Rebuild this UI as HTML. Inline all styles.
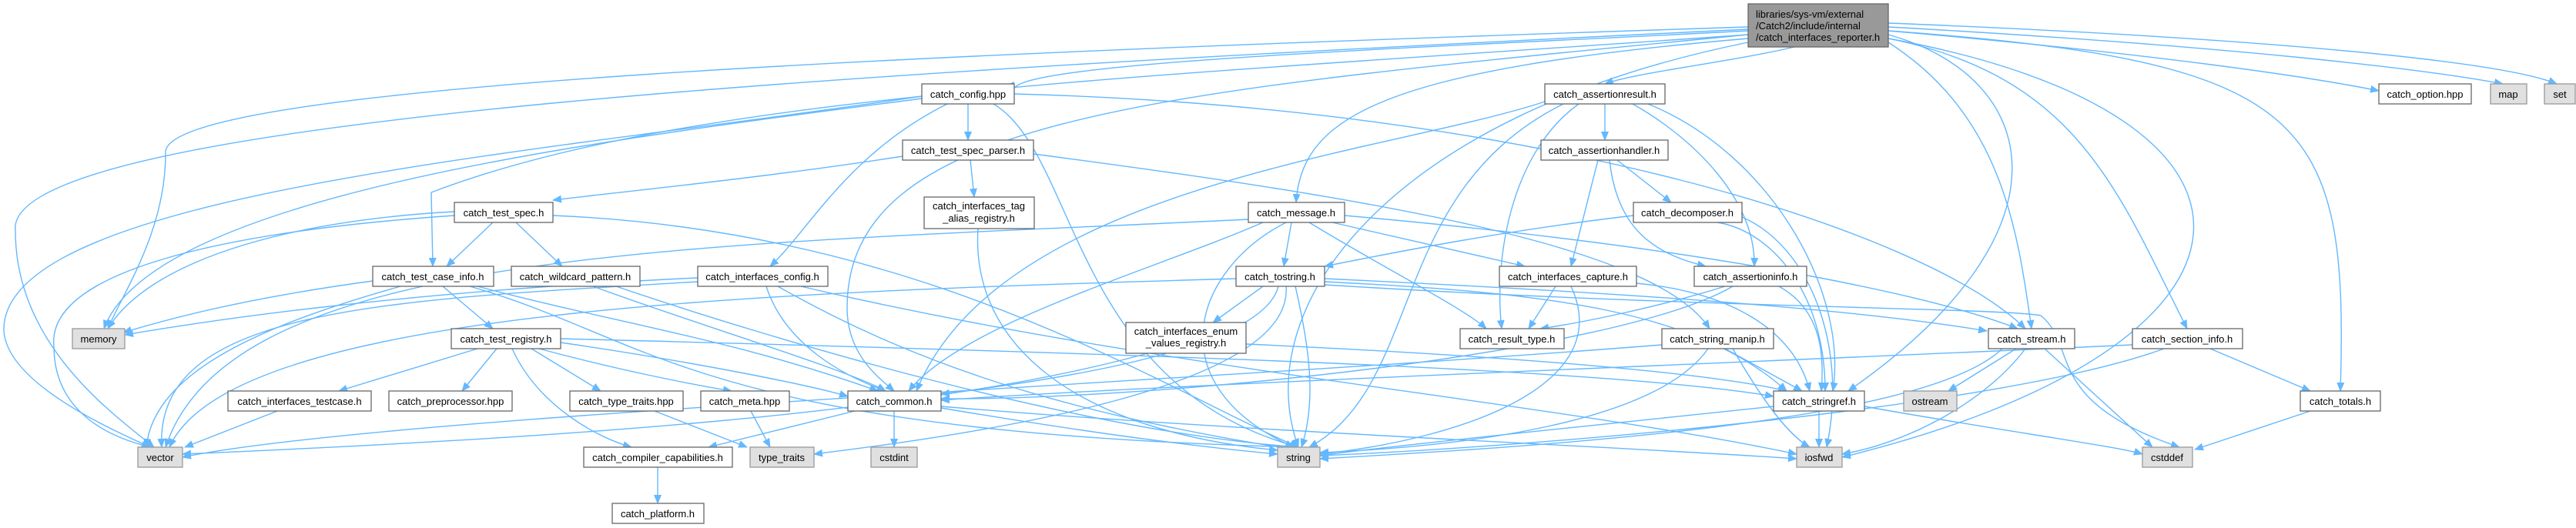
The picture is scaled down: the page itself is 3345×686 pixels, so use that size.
<!DOCTYPE html>
<html><head><meta charset="utf-8"><style>
html,body{margin:0;padding:0;background:#fff;}
svg{display:block;}
text{font-family:"Liberation Sans",sans-serif;font-size:13px;fill:#000;}
.e{fill:none;stroke:#63b8ff;stroke-width:1.4;}
.n{fill:#fff;stroke:#666;stroke-width:1.3;}
.g{fill:#e0e0e0;stroke:#999;stroke-width:1.3;}
</style></head><body>
<svg width="3345" height="686" viewBox="0 0 3345 686" xmlns="http://www.w3.org/2000/svg">
<defs><marker id="a" markerWidth="12" markerHeight="10" refX="11" refY="5" orient="auto" markerUnits="userSpaceOnUse"><path d="M0,0 L12,5 L0,10 z" fill="#63b8ff"/></marker></defs>
<g class="e" marker-end="url(#a)">
<!-- top -->
<path d="M2270,40 C1900,60 1300,80 1317,118"/>
<path d="M2452,40 C2800,70 3000,100 3089,118"/>
<path d="M2452,35 C2900,60 3150,90 3250,109"/>
<path d="M2452,30 C2950,50 3250,80 3320,109"/>
<path d="M2330,61 C2250,80 2120,95 2084,109"/>
<path d="M2270,50 C1800,90 1690,150 1683,263"/>
<path d="M2270,35 C1200,70 200,110 215,200 C215,300 160,380 140,427"/>
<path d="M2270,38 C1200,90 0,150 20,300 C20,450 150,540 200,581"/>
<path d="M2270,45 C1500,100 900,120 560,250 L562,346"/>
<path d="M2270,45 C1500,120 1100,150 1100,400 C1100,460 1140,490 1161,508"/>
<path d="M2270,55 C1800,150 1620,400 1686,581"/>
<path d="M2452,45 C2650,100 2700,300 2400,508"/>
<path d="M2452,50 C3000,150 2980,450 2392,594"/>
<path d="M2452,50 C2700,100 2750,250 2840,427"/>
<path d="M2452,40 C3000,80 3050,150 3039,508"/>
<path d="M2452,55 C2600,150 2620,300 2638,427"/>
<!-- config -->
<path d="M1257,135 L1257,182"/>
<path d="M1230,135 C1100,200 1050,300 1000,346"/>
<path d="M1197,128 C800,180 200,250 135,427"/>
<path d="M1197,125 C700,200 0,250 5,430 C10,500 150,560 195,581"/>
<path d="M1290,135 C1400,200 1390,500 1686,581"/>
<path d="M1317,122 C2000,140 2500,300 2630,427"/>
<!-- tsparser -->
<path d="M1172,203 C1000,230 800,250 718,260"/>
<path d="M1260,208 L1265,256"/>
<path d="M1342,200 C1800,260 2150,320 2220,427"/>
<!-- tspec -->
<path d="M640,289 L580,346"/>
<path d="M670,289 L730,346"/>
<path d="M590,275 C400,285 200,330 140,427"/>
<path d="M590,280 C300,300 60,350 70,450 C70,540 150,570 195,581"/>
<path d="M718,280 C1200,300 1500,500 1686,581"/>
<!-- tcinfo -->
<path d="M575,372 L640,427"/>
<path d="M484,365 C300,390 200,420 160,432"/>
<path d="M520,372 C350,420 200,480 190,581"/>
<path d="M620,372 C800,420 950,440 1140,508"/>
<path d="M610,372 C850,440 900,560 1686,581"/>
<!-- wildcard -->
<path d="M770,372 C900,420 1100,480 1150,508"/>
<path d="M800,372 C1000,440 1400,560 1686,581"/>
<!-- iconfig -->
<path d="M995,372 C1020,450 1100,490 1150,508"/>
<path d="M906,361 C500,380 250,420 162,435"/>
<path d="M906,366 C500,390 200,400 210,581"/>
<path d="M1010,372 C1200,480 1400,540 1686,585"/>
<path d="M1040,372 C1500,480 2000,520 2333,590"/>
<!-- tregistry -->
<path d="M620,453 L440,508"/>
<path d="M645,453 L600,508"/>
<path d="M690,453 L780,508"/>
<path d="M700,453 C800,480 900,500 950,508"/>
<path d="M665,453 C700,530 780,570 820,581"/>
<path d="M728,445 C900,470 1050,500 1101,515"/>
<path d="M728,440 C1500,460 2100,480 2303,515"/>
<!-- itestcase etc -->
<path d="M360,534 L240,581"/>
<path d="M850,534 L970,581"/>
<path d="M975,534 L1000,581"/>
<path d="M1110,534 L920,581"/>
<path d="M1161,534 L1161,581"/>
<path d="M1222,530 C1400,560 1550,580 1659,590"/>
<path d="M1222,528 C1600,560 2100,580 2333,596"/>
<path d="M854,607 L854,654"/>
<!-- tagalias -->
<path d="M1270,297 C1260,450 1400,560 1659,585"/>
<!-- message -->
<path d="M1677,289 L1667,346"/>
<path d="M1730,289 L1980,346"/>
<path d="M1700,289 C1800,350 1900,400 1930,427"/>
<path d="M1640,289 C1500,350 1250,420 1180,508"/>
<path d="M1746,280 C2200,320 2500,380 2620,427"/>
<path d="M1670,289 C1550,350 1500,500 1680,581"/>
<path d="M1621,285 C900,320 300,320 215,581"/>
<!-- tostring -->
<path d="M1640,372 L1575,419"/>
<path d="M1660,372 C1640,450 1400,490 1222,512"/>
<path d="M1682,372 C1700,450 1710,520 1690,581"/>
<path d="M1605,362 C1000,380 300,400 220,581"/>
<path d="M1670,372 C1680,500 1300,560 1057,590"/>
<path d="M1720,362 C2100,380 2400,400 2580,430"/>
<path d="M1720,366 C2000,380 2200,400 2320,508"/>
<path d="M1720,370 C2200,400 2600,400 2650,410 C2700,450 2650,520 2830,581"/>
<!-- enumreg -->
<path d="M1618,447 C1900,460 2200,480 2320,508"/>
<path d="M1490,459 C1200,540 700,570 237,590"/>
<!-- aresult -->
<path d="M2084,135 L2084,182"/>
<path d="M2120,135 C2200,180 2280,260 2278,346"/>
<path d="M2050,135 C1960,200 1940,340 1950,427"/>
<path d="M2140,135 C2300,200 2400,380 2380,508"/>
<path d="M2006,132 C1800,200 1300,240 1190,508"/>
<path d="M2030,135 C1800,250 1850,500 1700,581"/>
<!-- ahandler -->
<path d="M2100,208 L2170,263"/>
<path d="M2075,208 L2040,346"/>
<path d="M2090,208 C2100,300 2150,330 2215,346"/>
<!-- decomp -->
<path d="M2121,280 C1950,300 1800,330 1720,346"/>
<path d="M2230,289 C2300,300 2370,380 2370,508"/>
<path d="M2262,282 C2350,320 2400,450 2372,581"/>
<!-- icapture -->
<path d="M2020,372 L1985,427"/>
<path d="M2125,368 C2250,380 2330,430 2350,508"/>
<path d="M2040,372 C2100,500 1900,570 1714,590"/>
<!-- ainfo -->
<path d="M2240,372 C2150,400 2050,420 2000,427"/>
<path d="M2310,372 C2360,400 2370,450 2365,508"/>
<path d="M2250,372 C2100,460 1500,520 1222,518"/>
<!-- smanip -->
<path d="M2240,453 L2340,508"/>
<path d="M2218,453 C2150,550 1900,580 1714,588"/>
<path d="M2158,448 C1500,500 500,540 237,594"/>
<path d="M2250,453 C2300,540 2330,570 2350,581"/>
<!-- stringref -->
<path d="M2303,528 C2000,560 1800,580 1714,592"/>
<path d="M2362,534 L2362,581"/>
<path d="M2421,528 C2600,560 2750,580 2782,590"/>
<!-- stream -->
<path d="M2618,453 L2530,508"/>
<path d="M2630,453 C2580,520 2480,575 2392,590"/>
<path d="M2655,453 L2795,581"/>
<path d="M2600,453 C2500,550 2000,580 1714,596"/>
<!-- sinfo -->
<path d="M2870,453 L3000,508"/>
<path d="M2769,448 C2300,470 1500,500 1222,520"/>
<path d="M2810,453 C2600,530 2000,580 1714,592"/>
<path d="M3000,534 L2850,584"/>
</g>
<!-- nodes -->
<rect x="2270" y="5" width="182" height="56" fill="#999" stroke="#666" stroke-width="1.3"/>
<text x="2280" y="23">libraries/sys-vm/external</text>
<text x="2280" y="38">/Catch2/include/internal</text>
<text x="2280" y="53">/catch_interfaces_reporter.h</text>
<g>
<rect class="n" x="1197" y="109" width="120" height="26"/><text x="1257" y="127" text-anchor="middle">catch_config.hpp</text>
<rect class="n" x="3089" y="109" width="120" height="26"/><text x="3149" y="127" text-anchor="middle">catch_option.hpp</text>
<rect class="g" x="3234" y="109" width="47" height="26"/><text x="3257" y="127" text-anchor="middle">map</text>
<rect class="g" x="3304" y="109" width="40" height="26"/><text x="3324" y="127" text-anchor="middle">set</text>
<rect class="n" x="2006" y="109" width="156" height="26"/><text x="2084" y="127" text-anchor="middle">catch_assertionresult.h</text>
<rect class="n" x="1172" y="182" width="170" height="26"/><text x="1257" y="200" text-anchor="middle">catch_test_spec_parser.h</text>
<rect class="n" x="2001" y="182" width="165" height="26"/><text x="2083" y="200" text-anchor="middle">catch_assertionhandler.h</text>
<rect class="n" x="590" y="263" width="128" height="26"/><text x="654" y="281" text-anchor="middle">catch_test_spec.h</text>
<rect class="n" x="1200" y="256" width="143" height="41"/><text x="1271" y="272" text-anchor="middle">catch_interfaces_tag</text><text x="1271" y="288" text-anchor="middle">_alias_registry.h</text>
<rect class="n" x="1621" y="263" width="125" height="26"/><text x="1683" y="281" text-anchor="middle">catch_message.h</text>
<rect class="n" x="2121" y="263" width="141" height="26"/><text x="2191" y="281" text-anchor="middle">catch_decomposer.h</text>
<rect class="n" x="484" y="346" width="157" height="26"/><text x="562" y="364" text-anchor="middle">catch_test_case_info.h</text>
<rect class="n" x="664" y="346" width="167" height="26"/><text x="747" y="364" text-anchor="middle">catch_wildcard_pattern.h</text>
<rect class="n" x="906" y="346" width="169" height="26"/><text x="990" y="364" text-anchor="middle">catch_interfaces_config.h</text>
<rect class="n" x="1605" y="346" width="115" height="26"/><text x="1662" y="364" text-anchor="middle">catch_tostring.h</text>
<rect class="n" x="1947" y="346" width="178" height="26"/><text x="2036" y="364" text-anchor="middle">catch_interfaces_capture.h</text>
<rect class="n" x="2200" y="346" width="146" height="26"/><text x="2273" y="364" text-anchor="middle">catch_assertioninfo.h</text>
<rect class="g" x="94" y="427" width="68" height="26"/><text x="128" y="445" text-anchor="middle">memory</text>
<rect class="n" x="586" y="427" width="142" height="26"/><text x="657" y="445" text-anchor="middle">catch_test_registry.h</text>
<rect class="n" x="1462" y="419" width="156" height="40"/><text x="1540" y="435" text-anchor="middle">catch_interfaces_enum</text><text x="1540" y="450" text-anchor="middle">_values_registry.h</text>
<rect class="n" x="1896" y="427" width="135" height="26"/><text x="1963" y="445" text-anchor="middle">catch_result_type.h</text>
<rect class="n" x="2158" y="427" width="145" height="26"/><text x="2230" y="445" text-anchor="middle">catch_string_manip.h</text>
<rect class="n" x="2582" y="427" width="112" height="26"/><text x="2638" y="445" text-anchor="middle">catch_stream.h</text>
<rect class="n" x="2769" y="427" width="143" height="26"/><text x="2840" y="445" text-anchor="middle">catch_section_info.h</text>
<rect class="n" x="296" y="508" width="186" height="26"/><text x="389" y="526" text-anchor="middle">catch_interfaces_testcase.h</text>
<rect class="n" x="505" y="508" width="160" height="26"/><text x="585" y="526" text-anchor="middle">catch_preprocessor.hpp</text>
<rect class="n" x="740" y="508" width="147" height="26"/><text x="813" y="526" text-anchor="middle">catch_type_traits.hpp</text>
<rect class="n" x="910" y="508" width="115" height="26"/><text x="967" y="526" text-anchor="middle">catch_meta.hpp</text>
<rect class="n" x="1101" y="508" width="121" height="26"/><text x="1161" y="526" text-anchor="middle">catch_common.h</text>
<rect class="n" x="2303" y="508" width="118" height="26"/><text x="2362" y="526" text-anchor="middle">catch_stringref.h</text>
<rect class="g" x="2472" y="508" width="69" height="26"/><text x="2506" y="526" text-anchor="middle">ostream</text>
<rect class="n" x="2987" y="508" width="104" height="26"/><text x="3039" y="526" text-anchor="middle">catch_totals.h</text>
<rect class="g" x="179" y="581" width="58" height="26"/><text x="208" y="599" text-anchor="middle">vector</text>
<rect class="n" x="758" y="581" width="193" height="26"/><text x="854" y="599" text-anchor="middle">catch_compiler_capabilities.h</text>
<rect class="g" x="974" y="581" width="83" height="26"/><text x="1015" y="599" text-anchor="middle">type_traits</text>
<rect class="g" x="1131" y="581" width="60" height="26"/><text x="1161" y="599" text-anchor="middle">cstdint</text>
<rect class="g" x="1659" y="581" width="55" height="26"/><text x="1686" y="599" text-anchor="middle">string</text>
<rect class="g" x="2333" y="581" width="59" height="26"/><text x="2362" y="599" text-anchor="middle">iosfwd</text>
<rect class="g" x="2782" y="581" width="65" height="26"/><text x="2814" y="599" text-anchor="middle">cstddef</text>
<rect class="n" x="795" y="654" width="119" height="26"/><text x="854" y="672" text-anchor="middle">catch_platform.h</text>
</g>
</svg>
</body></html>
